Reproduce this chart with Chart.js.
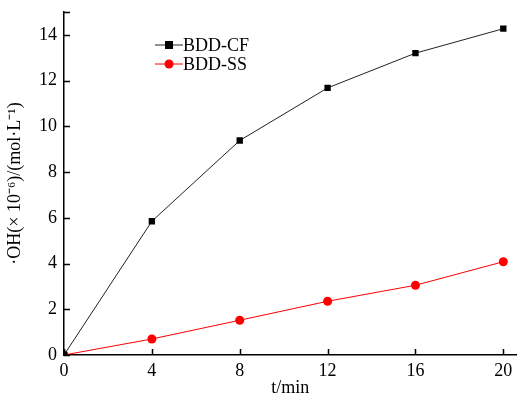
<!DOCTYPE html>
<html>
<head>
<meta charset="utf-8">
<script src="https://cdn.jsdelivr.net/npm/chart.js@4/dist/chart.umd.min.js"></script>
<style>
  html, body { margin: 0; padding: 0; background: #fff; }
  #wrap { width: 521px; height: 399px; }
</style>
</head>
<body>
<div id="wrap"><canvas id="ohChart"></canvas></div>
<script>
const tiempos = [0, 4, 8, 12, 16, 20];
const bddCF = [0, 5.85, 9.38, 11.68, 13.2, 14.27];
const bddSS = [0, 0.7, 1.52, 2.35, 3.05, 4.08];
const xTicks = [0, 4, 8, 12, 16, 20];
const yTicks = [0, 2, 4, 6, 8, 10, 12, 14];

const fuente = '"Liberation Serif", "Times New Roman", serif';

function puntos(valores) {
    return tiempos.map(function(t, i) { return { x: t, y: valores[i] }; });
}

// ticks hacia dentro, como en el original
const ticksInternos = {
    id: 'ticksInternos',
    afterDatasetsDraw(chart) {
        const ctx = chart.ctx;
        const area = chart.chartArea;
        const x = chart.scales.x, y = chart.scales.y;
        ctx.save();
        ctx.strokeStyle = '#000';
        ctx.lineWidth = 1.5;
        ctx.beginPath();
        xTicks.forEach(function(v) {
            const px = Math.round(x.getPixelForValue(v)) + 0.5;
            ctx.moveTo(px, area.bottom);
            ctx.lineTo(px, area.bottom - 6);
        });
        yTicks.concat([15]).forEach(function(v) {
            const py = Math.round(y.getPixelForValue(v)) + 0.5;
            ctx.moveTo(area.left, py);
            ctx.lineTo(area.left + 6, py);
        });
        ctx.stroke();
        ctx.restore();
    }
};

// leyenda dibujada dentro del área
const leyenda = {
    id: 'leyenda',
    afterDatasetsDraw(chart) {
        const ctx = chart.ctx;
        ctx.save();
        ctx.font = '18px ' + fuente;
        ctx.textBaseline = 'middle';
        chart.data.datasets.forEach(function(ds, i) {
            const yy = 45 + i * 19;
            ctx.strokeStyle = ds.borderColor;
            ctx.lineWidth = 1;
            ctx.beginPath();
            ctx.moveTo(155, yy);
            ctx.lineTo(183, yy);
            ctx.stroke();
            ctx.fillStyle = ds.backgroundColor;
            if (ds.pointStyle === 'rect') {
                ctx.fillRect(165, yy - 4, 8, 8);
            } else {
                ctx.beginPath();
                ctx.arc(169, yy, 4.5, 0, Math.PI * 2);
                ctx.fill();
            }
            ctx.fillStyle = '#000';
            ctx.fillText(ds.label, 183, yy + 1);
        });
        ctx.restore();
    }
};

new Chart(document.getElementById('ohChart'), {
    type: 'line',
    data: {
        datasets: [{
            label: 'BDD-CF',
            data: puntos(bddCF),
            borderColor: '#222',
            backgroundColor: '#000',
            borderWidth: 1,
            pointStyle: 'rect',
            pointRadius: 4.5,
            pointBorderWidth: 0
        }, {
            label: 'BDD-SS',
            data: puntos(bddSS),
            borderColor: '#ff0000',
            backgroundColor: '#ff0000',
            borderWidth: 1,
            pointStyle: 'circle',
            pointRadius: 4.5,
            pointBorderWidth: 0
        }]
    },
    options: {
        responsive: true,
        maintainAspectRatio: false,
        animation: false,
        layout: { padding: { top: 12, right: 0, left: 4, bottom: 0 } },
        plugins: {
            legend: { display: false },
            tooltip: { enabled: false }
        },
        scales: {
            x: {
                type: 'linear',
                min: 0,
                max: 20.6,
                afterBuildTicks: function(scale) {
                    scale.ticks = xTicks.map(function(v) { return { value: v }; });
                },
                afterFit: function(scale) {
                    scale.height = 44;
                    scale.paddingLeft = 0;
                    scale.paddingRight = 0;
                },
                grid: { display: false, drawTicks: false },
                border: { display: true, color: '#000', width: 1.5 },
                ticks: {
                    padding: 5,
                    color: '#000',
                    font: { family: fuente, size: 18 },
                    maxRotation: 0
                },
                title: {
                    display: true,
                    text: 't/min',
                    color: '#000',
                    font: { family: fuente, size: 18 },
                    padding: { top: 0, bottom: 0 }
                }
            },
            y: {
                min: 0,
                max: 15,
                afterBuildTicks: function(scale) {
                    scale.ticks = yTicks.map(function(v) { return { value: v }; });
                },
                afterFit: function(scale) {
                    scale.width = 60;
                    scale.paddingTop = 0;
                    scale.paddingBottom = 0;
                },
                grid: { display: false, drawTicks: false },
                border: { display: true, color: '#000', width: 1.5 },
                ticks: {
                    padding: 7,
                    color: '#000',
                    font: { family: fuente, size: 18 }
                },
                title: {
                    display: true,
                    text: '·OH(× 10⁻⁶)/(mol·L⁻¹)',
                    color: '#000',
                    font: { family: fuente, size: 18 },
                    padding: { top: 0, bottom: 0 }
                }
            }
        }
    },
    plugins: [ticksInternos, leyenda]
});
</script>
</body>
</html>
